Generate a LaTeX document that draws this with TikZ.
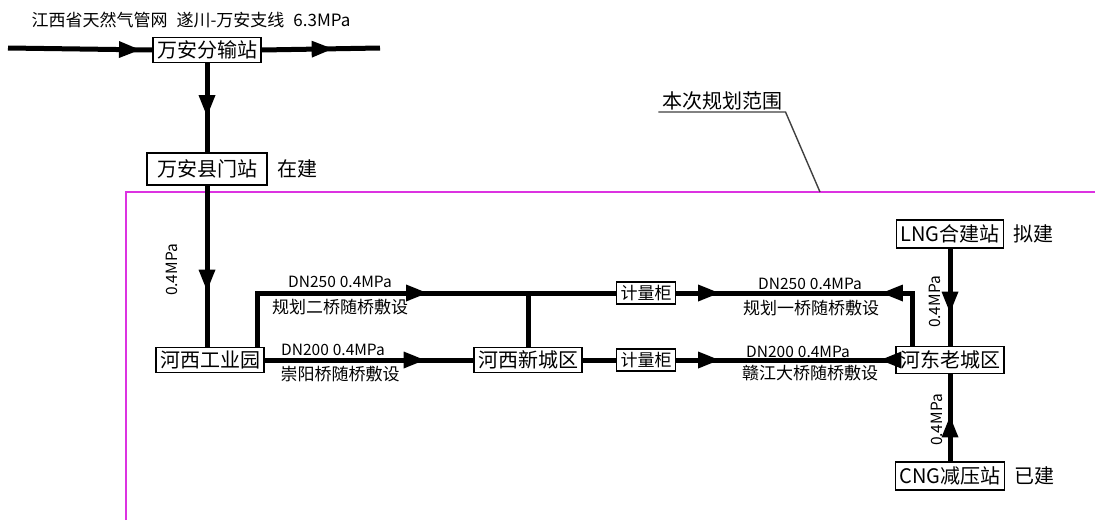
\documentclass[tikz,border=0pt]{standalone}
\usepackage{fontspec}
\setmainfont{Noto Sans CJK SC}
\usepackage{tikz}
\usetikzlibrary{arrows.meta}
\usetikzlibrary{decorations.markings}
\usetikzlibrary{positioning}
\definecolor{rangecolor}{RGB}{220,50,225}

\begin{document}
\begin{tikzpicture}[
            x=1pt, y=-1pt,
            station/.style={draw=black, line width=1.3pt, fill=white, inner xsep=4pt, inner ysep=1pt, minimum height=25pt, font=\fontsize{20}{22}\selectfont},
            meter/.style={station, minimum height=22pt, font=\fontsize{17}{19}\selectfont},
            status/.style={font=\fontsize{20}{22}\selectfont},
            pipe/.style={draw, line width=5pt},
            flow/.style={postaction={decorate}, decoration={markings, mark=at position #1 with {\arrow{Triangle[length=21pt, width=17pt, line width'=0pt]}}}},
            lbl/.style={font=\fontsize{15.5}{17}\selectfont},
            cnlbl/.style={font=\fontsize{17}{19}\selectfont}
        ]
            \fill[white] (0,0) rectangle (1095,520);
            \useasboundingbox (0,0) rectangle (1095,520);

            \draw[rangecolor, line width=2.8pt] (126,520) |- (1095,192);
            \node[status, inner ysep=2pt, anchor=south] (fanwei) at (722,112) {本次规划范围};
            \coordinate (fanweiend) at (820,192);
            \draw[black!75, line width=1.4pt] (fanwei.south west) -- (fanwei.south east) -- (fanweiend);

            \node[font=\fontsize{17}{19}\selectfont] (title) at (191,20) {江西省天然气管网\hspace{9pt}遂川-万安支线\hspace{9pt}6.3MPa};
            \node[station] (fenshu) at (207,50) {万安分输站};
            \node[station, minimum height=32pt, inner xsep=10pt] (menzhan) at (207,169) {万安县门站};
            \node[status, right=6pt of menzhan] (zaijian) {在建};
            \node[station] (hexigy) at (210,360) {河西工业园};
            \node[station] (hexixc) at (528,360) {河西新城区};
            \node[meter] (jlg1) at (646,293) {计量柜};
            \node[meter] (jlg2) at (646,360) {计量柜};
            \node[station, minimum height=27pt] (hedong) at (950,360) {河东老城区};
            \node[station, minimum height=28pt] (lng) at (950,234) {LNG合建站};
            \node[status, right=6pt of lng] (nijian) {拟建};
            \node[station, minimum height=28pt] (cng) at (950,476) {CNG减压站};
            \node[status, right=6pt of cng] (yijian) {已建};

            \coordinate (inlet) at (8,48);
            \coordinate (outlet) at (380,48);
            \coordinate (m1) at (800,293);
            \coordinate (m2) at (800,360);

            \draw[pipe, flow=132pt] (inlet) -- (fenshu.west);
            \draw[pipe, flow=71pt] (fenshu.east) -- (outlet);
            \draw[pipe, flow=53pt] (fenshu) -- (menzhan);
            \draw[pipe, flow=105pt] (menzhan) -- (menzhan |- hexigy.north);
            \draw[pipe, flow=224pt] ([xshift=47pt]hexigy.north) |- (jlg1.west);
            \draw[pipe] (hexixc) -- (hexixc |- jlg1);
            \draw[pipe, flow=160pt] (hexigy) -- (hexixc);
            \draw[pipe] (hexixc) -- (jlg2);
            \draw[pipe, flow=43pt] (jlg1) -- (m1);
            \draw[pipe, flow=43pt] (jlg2) -- (m2);
            \draw[pipe, flow=83pt] ([xshift=-38pt]hedong.north) |- (m1);
            \draw[pipe, flow=15pt] (hedong) -- (m2);
            \draw[pipe, flow=64pt] (lng) -- (hedong);
            \draw[pipe, flow=45pt] (cng) -- (hedong);

            \node[lbl] (dn250a) at (340,282) {DN250\hspace{4pt}0.4MPa};
            \node[cnlbl] (qiao2) at (340,307) {规划二桥随桥敷设};
            \node[lbl] (dn200a) at (333,350) {DN200\hspace{4pt}0.4MPa};
            \node[cnlbl] (chongyang) at (340,374) {崇阳桥随桥敷设};
            \node[lbl] (dn250b) at (810,284) {DN250\hspace{4pt}0.4MPa};
            \node[cnlbl] (qiao1) at (811,308) {规划一桥随桥敷设};
            \node[lbl] (dn200b) at (798,352) {DN200\hspace{4pt}0.4MPa};
            \node[cnlbl] (ganjiang) at (810,373) {赣江大桥随桥敷设};
            \node[lbl, rotate=90] (ya1) at (172,270) {0.4MPa};
            \node[lbl, rotate=90] (ya2) at (935,302) {0.4MPa};
            \node[lbl, rotate=90] (ya3) at (937,420) {0.4MPa};
        \end{tikzpicture}
\end{document}
